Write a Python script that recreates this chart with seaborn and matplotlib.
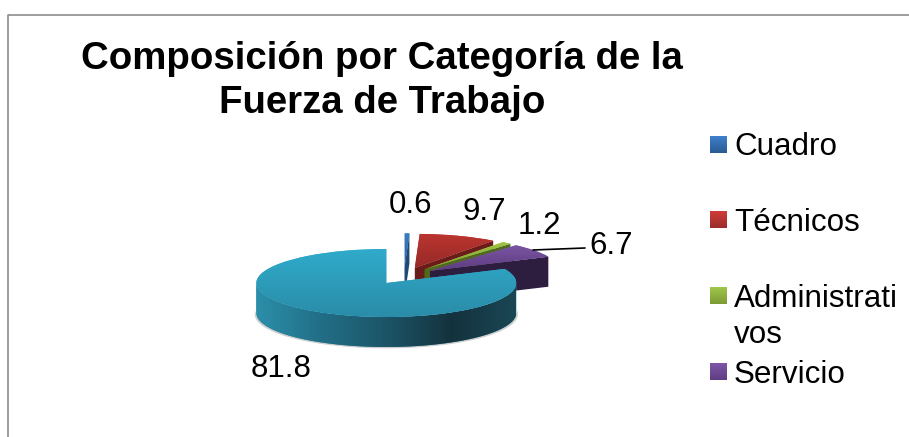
import numpy as np
import matplotlib
matplotlib.use("Agg")
import matplotlib.pyplot as plt
import seaborn as sns
from matplotlib.colors import LinearSegmentedColormap
from matplotlib.lines import Line2D

categories = ["Cuadro", "Técnicos", "Administrativos", "Servicio", "Obreros"]
values = [0.6, 9.7, 1.2, 6.7, 81.8]
legend_labels = ["Cuadro", "Técnicos", "Administrati\nvos", "Servicio"]
value_labels = ["0.6", "9.7", "1.2", "6.7", "81.8"]

top_colors = [("#3a7cc4", "#2a6099"), ("#bb3530", "#952a27"), ("#9fc545", "#7f9f35"),
              ("#7c54a3", "#5c3c80"), ("#30abcb", "#2a8ca8")]
wall_colors = ["#1f4a75", "#6a1c1a", "#4f6a1f", "#2d1d3e"]
legend_colors = [("#3f80cd", "#2a5a92"), ("#cf3d3a", "#9b2c2a"),
                 ("#a0c84a", "#7c9a35"), ("#7f56a8", "#5f3d82")]
teal_wall = ["#2c8faa", "#226e86", "#1c5568", "#14323d", "#1a4654"]

sns.set_theme(style="white", font="Liberation Sans")

W, H = 909, 437
RX, RY, DEPTH = 130.0, 34.0, 30.0 / 34.0
CX, CY = 387.0, 283.0
EXPLODE = 0.25
CENTER = (0.13, 0.21)

fig = plt.figure(figsize=(W / 100, H / 100), dpi=100)
ax = fig.add_axes([0, 0, 1, 1])


def px(x, y):
    return (x - CX) / RX, (CY - y) / RY


wedges, _ = ax.pie(values, colors=[c[0] for c in top_colors], startangle=90,
                   counterclock=False, explode=[EXPLODE] * len(values),
                   center=CENTER, radius=1, wedgeprops={"linewidth": 0, "edgecolor": "none"})
ax.set_aspect("auto")
ax.set_xlim(px(0, 0)[0], px(W, 0)[0])
ax.set_ylim(px(0, H)[1], px(0, 0)[1])
ax.set_autoscale_on(False)
ax.axis("off")


def gradient(colors, extent, clip, zorder, horizontal=False):
    cmap = LinearSegmentedColormap.from_list("g", colors)
    grad = np.linspace(0, 1, 256)
    grad = grad[None, :] if horizontal else grad[:, None]
    im = ax.imshow(grad, cmap=cmap, extent=extent, origin="upper", aspect="auto",
                   zorder=zorder, interpolation="bilinear")
    if clip is not None:
        im.set_clip_path(clip)
    return im


edges = np.cumsum([0] + values) / 100 * 2 * np.pi
for i, w in enumerate(wedges):
    mid = (edges[i] + edges[i + 1]) / 2
    ox = CENTER[0] + EXPLODE * np.sin(mid)
    oy = CENTER[1] + EXPLODE * np.cos(mid)
    z = 2 + i * 2
    if i < 4:
        ex, ey = ox + np.sin(edges[i + 1]), oy + np.cos(edges[i + 1])
        wall = ax.fill([ox, ex, ex, ox], [oy, ey, ey - DEPTH, oy - DEPTH],
                       color=wall_colors[i], lw=0, zorder=z)[0]
    else:
        t = np.linspace(np.pi / 2, 3 * np.pi / 2, 120)
        xs = ox + np.sin(t)
        ys = oy + np.cos(t)
        wx = np.r_[xs, xs[::-1]]
        wy = np.r_[ys, ys[::-1] - DEPTH]
        # soft grey rim under the disc
        sx = ox + 1.012 * np.sin(t)
        ax.fill(np.r_[sx, sx[::-1]], np.r_[ys - 0.75, ys[::-1] - DEPTH - 0.04],
                color="#cfcfcf", lw=0, zorder=z - 1)
        wall = ax.fill(wx, wy, color=teal_wall[0], lw=0, zorder=z)[0]
        gradient(teal_wall, (ox - 1, ox + 1, oy - 1 - DEPTH, oy), wall, z + 0.1, horizontal=True)
    w.set_zorder(z + 0.5)
    y0 = oy + np.max(np.cos(np.linspace(edges[i], edges[i + 1], 60)))
    y1 = oy + min(0, np.min(np.cos(np.linspace(edges[i], edges[i + 1], 60))))
    x0 = ox + min(0, np.min(np.sin(np.linspace(edges[i], edges[i + 1], 60))))
    x1 = ox + max(0, np.max(np.sin(np.linspace(edges[i], edges[i + 1], 60))))
    gradient(top_colors[i], (x0, x1, y1, y0), w, z + 0.6)

# leader line for the 6.7 label
lx, ly = zip(px(533, 250), px(585, 248))
ax.plot(lx, ly, color="black", lw=1.2, zorder=20)

# value labels
label_pos = [(410, 205), (484, 212), (539, 226), (611, 246), (281, 369)]
for lab, (x, y) in zip(value_labels, label_pos):
    fig.text(x / W, 1 - y / H, lab, ha="center", va="center", fontsize=22.5, color="black")

fig.text(382 / W, 1 - 81 / H, "Composición por Categoría de la\nFuerza de Trabajo",
         ha="center", va="center", fontsize=27.6, fontweight="bold", color="black",
         linespacing=1.27, multialignment="center")

# legend
legend_y = [144.5, 220, 296, 372]
text_y = [147, 223, 299, 375]
for lab, col, ly_, ty in zip(legend_labels, legend_colors, legend_y, text_y):
    x0, y0 = px(710, ly_ - 8.5)
    x1, y1 = px(727, ly_ + 8.5)
    gradient(col, (x0, x1, y1, y0), None, 15)
    first, *rest = lab.split("\n")
    fig.text(734 / W, 1 - ty / H, first, ha="left", va="center", fontsize=22.6, color="black")
    if rest:
        fig.text(734 / W, 1 - (ty + 36) / H, rest[0], ha="left", va="center",
                 fontsize=22.6, color="black")

# chart frame, cut at the right and bottom
fig.add_artist(Line2D([8 / W, 8 / W, 1], [0, 1 - 14.5 / H, 1 - 14.5 / H],
                      color="#8c8c8c", lw=1.2))

fig.savefig("out.png", dpi=100, facecolor="white")
